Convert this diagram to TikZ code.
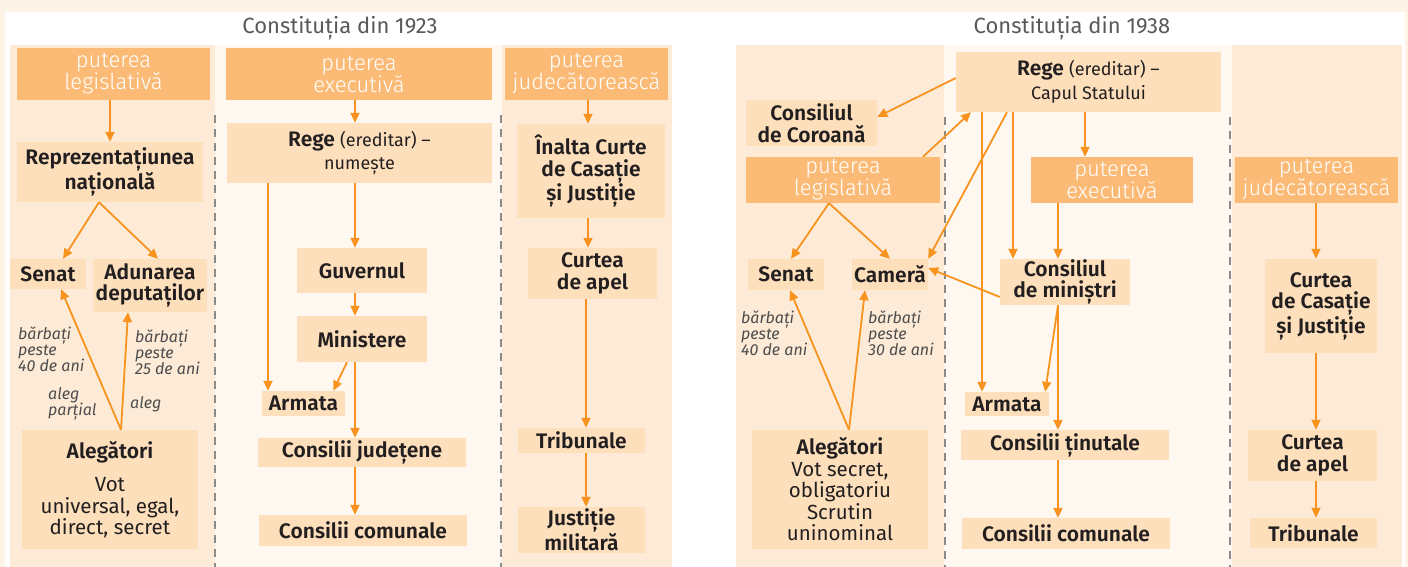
\documentclass[tikz,border=0pt]{standalone}
\usepackage{fontspec}
\setmainfont{Fira Sans}[BoldFont={Fira Sans SemiBold}]
\newfontfamily\lightfont{Fira Sans Light}
\usetikzlibrary{arrows.meta}
\definecolor{stripc}{HTML}{FDF3E7}
\definecolor{colbg}{HTML}{FDEBD7}
\definecolor{colbgb}{HTML}{FEF8F0}
\definecolor{headfill}{HTML}{FBBB77}
\definecolor{nodefill}{HTML}{FDDFBB}
\definecolor{arrowc}{HTML}{F7931E}
\definecolor{textdark}{HTML}{231F20}
\definecolor{labgray}{HTML}{4D4D4D}
\definecolor{titlegray}{HTML}{58595B}
\definecolor{dashgray}{HTML}{8A8A8A}
\newcommand\placebox[7]{\node[#6, minimum width={#4-#2}, minimum height={#5-#3}] (#1) at ({(#2+#4)/2},{(#3+#5)/2}) {#7};}
\newcommand\smallreg{\mdseries\fontsize{18}{23}\selectfont}
\newcommand\bodyreg{\mdseries\fontsize{20.5}{21}\selectfont}
\begin{document}
\begin{tikzpicture}[x=1pt,y=-1pt,
  nd/.style={fill=nodefill, inner sep=0pt, align=center, text=textdark, font=\bfseries\fontsize{21}{21.5}\selectfont},
  hd/.style={fill=headfill, inner sep=0pt, align=center, text=white, font=\lightfont\fontsize{22}{22}\selectfont},
  arr/.style={draw=arrowc, line width=1.8pt, -{Triangle[length=10pt,width=9pt]}},
  dashline/.style={draw=dashgray, line width=1.8pt, dash pattern=on 8pt off 6pt},
  lab/.style={font=\itshape\fontsize{16}{16}\selectfont, text=labgray, align=left, anchor=north west, inner sep=0pt},
  ttl/.style={font=\fontsize{22}{24}\selectfont, text=titlegray, inner sep=0pt}]
\useasboundingbox (0,0) rectangle (1408,567);
% backgrounds
\fill[stripc] (0,0) rectangle (1408,567);
\fill[white] (5,12) rectangle (1405,567);
\fill[colbg] (10,45) rectangle (215,567);
\fill[colbgb] (215,45) rectangle (502,567);
\fill[colbg] (502,45) rectangle (672,567);
\fill[colbg] (736,45) rectangle (944,567);
\fill[colbgb] (944,45) rectangle (1232,567);
\fill[colbg] (1232,45) rectangle (1402,567);
\draw[dashline] (215,115) -- (215,567);
\draw[dashline] (501,115) -- (501,567);
\draw[dashline] (945,117) -- (945,567);
\draw[dashline] (1230,117) -- (1230,567);
% titles
\node[ttl] (t1) at (340,28) {Constituția din 1923};
\node[ttl] (t2) at (1072,28) {Constituția din 1938};
% ---- 1923 ----
\placebox{hL1}{17}{48}{210}{100}{hd}{puterea\\legislativă}
\placebox{hL2}{226}{48}{492}{100}{hd}{puterea\\executivă}
\placebox{hL3}{505}{48}{668}{100}{hd}{puterea\\judecătorească}
\placebox{rep}{17}{142}{203}{202}{nd}{Reprezentațiunea\\națională}
\placebox{senL}{10}{259}{86}{289}{nd}{Senat}
\placebox{adu}{93}{259}{207}{312}{nd}{Adunarea\\deputaților}
\placebox{aleL}{22}{430}{198}{549}{nd}{Alegători\\[12pt]{\bodyreg Vot}\\{\bodyreg universal, egal,}\\{\bodyreg direct, secret}}
\placebox{regeL}{227}{123}{492}{183}{nd}{Rege {\smallreg(ereditar) –}\\[2pt]{\smallreg numește}}
\placebox{guv}{297}{248}{427}{293}{nd}{Guvernul}
\placebox{min}{297}{316}{427}{362}{nd}{Ministere}
\placebox{armL}{262}{391}{345}{416}{nd}{Armata}
\placebox{jud}{258}{438}{466}{467}{nd}{Consilii județene}
\placebox{comL}{259}{515}{467}{546}{nd}{Consilii comunale}
\placebox{inalta}{517}{124}{665}{218}{nd}{Înalta Curte\\de Casație\\și Justiție}
\placebox{apelL}{528}{248}{657}{299}{nd}{Curtea\\de apel}
\placebox{tribL}{518}{428}{645}{453}{nd}{Tribunale}
\placebox{just}{518}{507}{645}{553}{nd}{Justiție\\militară}
\node[lab] (l1) at (18,327) {bărbați\\peste\\40 de ani};
\node[lab] (l2) at (135,330) {bărbați\\peste\\25 de ani};
\node[lab] (l3) at (48,387) {aleg\\parțial};
\node[lab] (l4) at (130,396) {aleg};
\coordinate (xa) at (355,0);
\coordinate (xb) at (268,0);
\coordinate (xm) at (347,0);
\coordinate (xc) at (588,0);
\coordinate (xd) at (586,0);
\draw[arr] (hL1.south -| rep.north) -- (rep.north);
\draw[arr] ([xshift=-11pt]rep.south) -- ([xshift=15pt]senL.north);
\draw[arr] ([xshift=-11pt]rep.south) -- ([xshift=8pt]adu.north);
\draw[arr] ([xshift=11pt]aleL.north) -- ([xshift=13pt]senL.south);
\draw[arr] ([xshift=11pt]aleL.north) -- ([xshift=-22pt]adu.south);
\draw[arr] (hL2.south -| xa) -- (regeL.north -| xa);
\draw[arr] (regeL.south -| xa) -- (guv.north -| xa);
\draw[arr] (guv.south -| xa) -- (min.north -| xa);
\draw[arr] (regeL.south -| xb) -- (armL.north -| xb);
\draw[arr] (min.south -| xm) -- ([xshift=-12pt]armL.north east);
\draw[arr] (min.south -| xa) -- (jud.north -| xa);
\draw[arr] (jud.south -| xa) -- (comL.north -| xa);
\draw[arr] (hL3.south -| xc) -- (inalta.north -| xc);
\draw[arr] (inalta.south -| xc) -- (apelL.north -| xc);
\draw[arr] (apelL.south -| xd) -- (tribL.north -| xd);
\draw[arr] (tribL.south -| xd) -- (just.north -| xd);
% ---- 1938 ----
\placebox{regeR}{956}{52}{1221}{112}{nd}{Rege {\smallreg(ereditar) –}\\[2pt]{\smallreg Capul Statului}}
\placebox{coroana}{746}{100}{877}{146}{nd}{Consiliul\\de Coroană}
\placebox{hR1}{746}{157}{940}{203}{hd}{puterea\\legislativă}
\placebox{hR2}{1031}{157}{1193}{203}{hd}{puterea\\executivă}
\placebox{hR3}{1235}{157}{1398}{203}{hd}{puterea\\judecătorească}
\placebox{senR}{748}{259}{824}{290}{nd}{Senat}
\placebox{cam}{852}{259}{928}{290}{nd}{Cameră}
\placebox{cons}{1000}{259}{1130}{305}{nd}{Consiliul\\de miniștri}
\placebox{armR}{965}{392}{1049}{416}{nd}{Armata}
\placebox{tin}{961}{430}{1169}{460}{nd}{Consilii ținutale}
\placebox{comR}{962}{518}{1170}{549}{nd}{Consilii comunale}
\placebox{aleR}{752}{430}{928}{549}{nd}{Alegători\\{\bodyreg Vot secret,}\\{\bodyreg obligatoriu}\\{\bodyreg Scrutin}\\{\bodyreg uninominal}}
\placebox{casR}{1265}{259}{1377}{353}{nd}{Curtea\\de Casație\\și Justiție}
\placebox{apelR}{1248}{430}{1377}{481}{nd}{Curtea\\de apel}
\placebox{tribR}{1250}{518}{1377}{548}{nd}{Tribunale}
\node[lab] (l5) at (741,311) {bărbați\\peste\\40 de ani};
\node[lab] (l6) at (868,311) {bărbați\\peste\\30 de ani};
\coordinate (xe) at (982,0);
\coordinate (xf) at (1013,0);
\coordinate (xg) at (1085,0);
\coordinate (xh) at (1058,0);
\coordinate (xi) at (1316,0);
\draw[arr] ([yshift=4pt]regeR.west) -- ([yshift=6pt]coroana.east);
\draw[arr] ([xshift=80pt]hR1.north) -- ([xshift=-117.5pt]regeR.south);
\draw[arr] ([xshift=-14pt]hR1.south) -- ([xshift=5pt]senR.north);
\draw[arr] ([xshift=-14pt]hR1.south) -- (cam.north);
\draw[arr] ([xshift=-81.5pt]regeR.south) -- (cam.north east);
\draw[arr] (regeR.south -| xe) -- (armR.north -| xe);
\draw[arr] (regeR.south -| xf) -- (cons.north -| xf);
\draw[arr] (regeR.south -| xg) -- (hR2.north -| xg);
\draw[arr] (hR2.south -| xh) -- (cons.north -| xh);
\draw[arr] ([yshift=-15pt]cons.west) -- ([yshift=6.5pt]cam.east);
\draw[arr] (cons.south -| xh) -- ([xshift=-4pt]armR.north east);
\draw[arr] (cons.south -| xh) -- (tin.north -| xh);
\draw[arr] (tin.south -| xh) -- (comR.north -| xh);
\draw[arr] ([xshift=9pt]aleR.north) -- ([xshift=4pt]senR.south);
\draw[arr] ([xshift=9pt]aleR.north) -- ([xshift=-25pt]cam.south);
\draw[arr] (hR3.south -| xi) -- (casR.north -| xi);
\draw[arr] (casR.south -| xi) -- (apelR.north -| xi);
\draw[arr] (apelR.south -| xi) -- (tribR.north -| xi);
\end{tikzpicture}
\end{document}
